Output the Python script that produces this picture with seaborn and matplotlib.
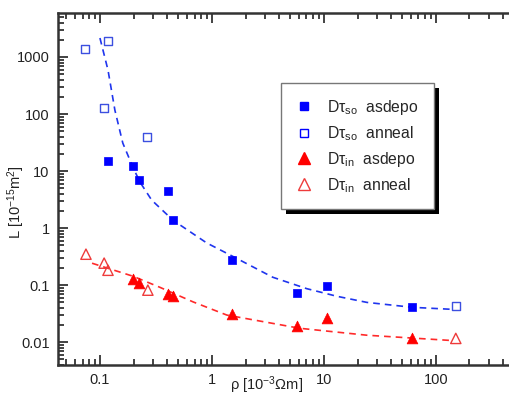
import numpy as np
import pandas as pd
import matplotlib
matplotlib.use("Agg")
import matplotlib.pyplot as plt
import seaborn as sns
from matplotlib.lines import Line2D
from matplotlib.patches import Rectangle
from matplotlib.ticker import FixedLocator, LogLocator, NullFormatter, FixedFormatter

# ---- data ----
so_asdepo_x = [0.118, 0.197, 0.223, 0.405, 0.449, 1.5, 5.74, 10.6, 61]
so_asdepo_y = [15, 12.2, 6.9, 4.45, 1.38, 0.275, 0.072, 0.097, 0.041]
so_anneal_x = [0.0735, 0.118, 0.109, 0.263, 151]
so_anneal_y = [1380, 1910, 127, 39.5, 0.043]
in_asdepo_x = [0.197, 0.223, 0.405, 0.449, 1.5, 5.74, 10.6, 61]
in_asdepo_y = [0.13, 0.11, 0.07, 0.064, 0.031, 0.019, 0.027, 0.0117]
in_anneal_x = [0.075, 0.109, 0.118, 0.268, 151]
in_anneal_y = [0.35, 0.244, 0.183, 0.082, 0.0117]

# fitted curves
so_fit_x = [0.1, 0.118, 0.136, 0.16, 0.197, 0.228, 0.29, 0.449, 0.9, 1.54, 3.5, 7.05, 13.1, 24.3, 62, 133]
so_fit_y = [2150, 590, 117, 31, 11.7, 6.4, 3.1, 1.38, 0.55, 0.32, 0.138, 0.087, 0.064, 0.050, 0.041, 0.038]
in_fit_x = [0.085, 0.197, 0.343, 0.68, 1.36, 6.1, 24.3, 133]
in_fit_y = [0.243, 0.144, 0.092, 0.051, 0.030, 0.0176, 0.0133, 0.0108]

x_ticks = [0.1, 1, 10, 100]
x_labels = ["0.1", "1", "10", "100"]
y_ticks = [0.01, 0.1, 1, 10, 100, 1000]
y_labels = ["0.01", "0.1", "1", "10", "100", "1000"]

legend_labels = [r"D$\tau_{\rm so}$  asdepo", r"D$\tau_{\rm so}$  anneal",
                 r"D$\tau_{\rm in}$  asdepo", r"D$\tau_{\rm in}$  anneal"]

sns.set_style("ticks")
plt.rcParams["font.family"] = ["Liberation Sans", "DejaVu Sans"]
plt.rcParams["mathtext.fontset"] = "custom"
plt.rcParams["mathtext.rm"] = "Liberation Sans"
plt.rcParams["mathtext.it"] = "Liberation Sans:italic"
plt.rcParams["mathtext.default"] = "rm"

fig = plt.figure(figsize=(5.09, 3.96), dpi=100)
ax = fig.add_axes([58/509, 31/396, 456/509, 352/396])

BLUE = "#0000ff"
BLUE_L = "#3c4fe0"
RED = "#ff0000"
RED_L = "#ee3b3b"

sns.lineplot(x=so_fit_x, y=so_fit_y, ax=ax, color="#1f35ee", lw=1.2,
             linestyle=(0, (4, 3)), sort=False, estimator=None)
sns.lineplot(x=in_fit_x, y=in_fit_y, ax=ax, color="#ff2a2a", lw=1.2,
             linestyle=(0, (4, 3)), sort=False, estimator=None)

sns.scatterplot(x=so_asdepo_x, y=so_asdepo_y, ax=ax, marker="s", s=40,
                color=BLUE, edgecolor=BLUE, linewidth=0.5, zorder=3)
sns.scatterplot(x=so_anneal_x, y=so_anneal_y, ax=ax, marker="s", s=34,
                facecolor="none", edgecolor=BLUE_L, linewidth=1.0, zorder=3)
sns.scatterplot(x=in_asdepo_x, y=in_asdepo_y, ax=ax, marker="^", s=60,
                color=RED, edgecolor=RED, linewidth=0.5, zorder=3)
sns.scatterplot(x=in_anneal_x, y=in_anneal_y, ax=ax, marker="^", s=55,
                facecolor="none", edgecolor=RED_L, linewidth=1.0, zorder=3)

ax.set_xscale("log")
ax.set_yscale("log")
ax.set_xlim(0.0422, 500)
ax.set_ylim(0.004, 5900)

ax.xaxis.set_major_locator(FixedLocator(x_ticks))
ax.xaxis.set_major_formatter(FixedFormatter(x_labels))
ax.yaxis.set_major_locator(FixedLocator(y_ticks))
ax.yaxis.set_major_formatter(FixedFormatter(y_labels))
ax.xaxis.set_minor_locator(LogLocator(base=10, subs=np.arange(2, 10), numticks=20))
ax.yaxis.set_minor_locator(LogLocator(base=10, subs=np.arange(2, 10), numticks=20))
ax.xaxis.set_minor_formatter(NullFormatter())
ax.yaxis.set_minor_formatter(NullFormatter())

ax.tick_params(which="both", direction="in", top=True, right=False, width=1.2,
               colors="#222222", labelsize=10.5, pad=6, labelcolor="#222222")
ax.tick_params(which="major", length=7)
ax.tick_params(which="minor", length=4)
for sp in ["left", "bottom", "top"]:
    ax.spines[sp].set_linewidth(1.8)
    ax.spines[sp].set_color("#333333")
ax.spines["right"].set_visible(False)

ax.set_xlabel(r"ρ [10$^{-3}$Ωm]", fontsize=10.5, color="#222222")
ax.xaxis.set_label_coords(0.458, -0.027)
ax.set_ylabel(r"L [10$^{-15}$m$^{2}$]", fontsize=10.5, color="#222222")
ax.yaxis.set_label_coords(-0.068, 0.463)

handles = [
    Line2D([], [], marker="s", ls="none", color=BLUE, markersize=6),
    Line2D([], [], marker="s", ls="none", markerfacecolor="none", markeredgecolor=BLUE, markersize=6, mew=1.0),
    Line2D([], [], marker="^", ls="none", color=RED, markersize=8),
    Line2D([], [], marker="^", ls="none", markerfacecolor="none", markeredgecolor=RED_L, markersize=8, mew=1.0),
]
leg = ax.legend(handles, legend_labels, loc="upper left", bbox_to_anchor=(0.489, 0.801),
                borderaxespad=0, frameon=True, fancybox=False, fontsize=11.3,
                handlelength=1.0, handletextpad=1.0, labelspacing=0.45,
                borderpad=0.95, edgecolor="#777777", framealpha=1)
leg.get_frame().set_linewidth(1.0)
leg.set_zorder(10)

fig.canvas.draw()
bb = leg.get_window_extent()
shadow = Rectangle((bb.x0 + 5, bb.y0 - 5), bb.width, bb.height, transform=None,
                   facecolor="black", edgecolor="none", zorder=9)
ax.add_artist(shadow)

fig.savefig("out.png", dpi=100)
